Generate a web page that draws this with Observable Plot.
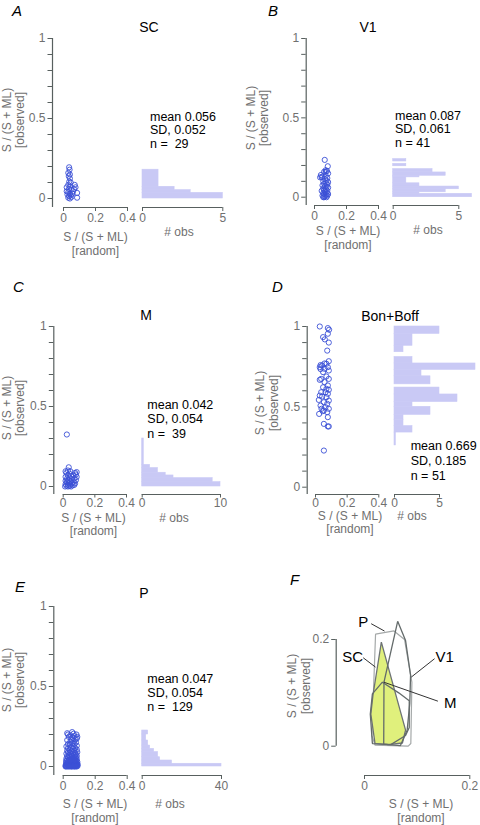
<!DOCTYPE html>
<html>
<head>
<meta charset="utf-8">
<script src="https://cdn.jsdelivr.net/npm/d3@7"></script>
<script src="https://cdn.jsdelivr.net/npm/@observablehq/plot@0.6"></script>
<style>
html,body{margin:0;padding:0;background:#fff;}
#fig{position:relative;width:480px;height:825px;overflow:hidden;background:#fff;}
#fig svg{position:absolute;left:0;top:0;}
</style>
</head>
<body>
<div id="fig"></div>
<script>
// ---------------- data ----------------
const yTicks = [0,0.1,0.2,0.3,0.4,0.5,0.6,0.7,0.8,0.9,1];
const yTickLabels = [0,0.5,1];
const xTicks = [0,0.2,0.4];
const fTicks = [0,0.2];

// scatter points [random, observed]
const ptsSC = [[0.035,0.195],[0.038,0.18],[0.03,0.16],[0.04,0.15],[0.033,0.14],[0.04,0.125],[0.036,0.105],[0.045,0.1],[0.03,0.085],[0.04,0.075],[0.02,0.07],[0.035,0.06],[0.05,0.055],[0.07,0.085],[0.075,0.07],[0.065,0.06],[0.06,0.045],[0.085,0.035],[0.03,0.04],[0.04,0.03],[0.025,0.025],[0.045,0.02],[0.035,0.015],[0.05,0.01],[0.03,0.005],[0.04,0.0],[0.085,0.005],[0.055,0.03],[0.02,0.045]];
const ptsV1 = [[0.064,0.235],[0.083,0.195],[0.07,0.17],[0.078,0.165],[0.06,0.16],[0.085,0.15],[0.04,0.14],[0.05,0.13],[0.045,0.125],[0.07,0.135],[0.08,0.12],[0.065,0.115],[0.075,0.105],[0.085,0.095],[0.055,0.1],[0.07,0.09],[0.06,0.085],[0.08,0.08],[0.05,0.075],[0.065,0.07],[0.075,0.065],[0.085,0.06],[0.055,0.055],[0.07,0.05],[0.06,0.045],[0.08,0.04],[0.045,0.04],[0.065,0.035],[0.075,0.03],[0.055,0.025],[0.085,0.02],[0.06,0.02],[0.07,0.015],[0.05,0.01],[0.08,0.01],[0.065,0.005],[0.055,0.0],[0.075,0.0],[0.06,0.0],[0.07,0.16],[0.035,0.125]];
const ptsM = [[0.023,0.325],[0.035,0.12],[0.015,0.095],[0.03,0.1],[0.045,0.095],[0.085,0.09],[0.075,0.085],[0.02,0.085],[0.04,0.08],[0.08,0.075],[0.065,0.07],[0.03,0.07],[0.05,0.065],[0.085,0.06],[0.015,0.06],[0.04,0.055],[0.07,0.05],[0.025,0.05],[0.055,0.045],[0.035,0.04],[0.08,0.04],[0.015,0.035],[0.045,0.03],[0.065,0.03],[0.025,0.025],[0.035,0.02],[0.055,0.02],[0.075,0.02],[0.015,0.015],[0.045,0.012],[0.03,0.01],[0.06,0.008],[0.02,0.005],[0.04,0.003],[0.05,0.0],[0.012,0.0],[0.03,0.0],[0.07,0.01],[0.025,0.035]];
const ptsB = [[0.027,1.0],[0.078,0.99],[0.086,0.98],[0.078,0.955],[0.048,0.934],[0.059,0.92],[0.084,0.9],[0.074,0.85],[0.084,0.784],[0.069,0.768],[0.032,0.76],[0.042,0.757],[0.027,0.747],[0.078,0.747],[0.057,0.737],[0.084,0.726],[0.048,0.716],[0.069,0.689],[0.036,0.674],[0.084,0.674],[0.027,0.668],[0.057,0.654],[0.078,0.633],[0.048,0.622],[0.069,0.612],[0.084,0.606],[0.063,0.591],[0.036,0.591],[0.078,0.581],[0.027,0.57],[0.069,0.56],[0.042,0.564],[0.021,0.543],[0.084,0.539],[0.053,0.529],[0.074,0.519],[0.032,0.508],[0.063,0.498],[0.038,0.488],[0.084,0.488],[0.053,0.477],[0.074,0.467],[0.023,0.456],[0.046,0.473],[0.078,0.436],[0.053,0.394],[0.078,0.378],[0.084,0.378],[0.053,0.228],[0.057,0.77],[0.032,0.735]];
const ptsP = [
[0.015,0],[0.025,0],[0.035,0],[0.045,0],[0.055,0],[0.065,0],[0.075,0],[0.085,0],
[0.02,0.004],[0.03,0.004],[0.04,0.004],[0.05,0.004],[0.06,0.004],[0.07,0.004],[0.08,0.004],[0.09,0.004],
[0.015,0.008],[0.028,0.008],[0.038,0.008],[0.048,0.008],[0.058,0.008],[0.068,0.008],[0.078,0.008],[0.088,0.008],
[0.022,0.012],[0.033,0.012],[0.043,0.012],[0.053,0.012],[0.063,0.012],[0.073,0.012],[0.083,0.012],
[0.018,0.016],[0.03,0.016],[0.04,0.016],[0.05,0.016],[0.06,0.016],[0.07,0.016],[0.08,0.016],[0.09,0.016],
[0.025,0.02],[0.035,0.02],[0.045,0.02],[0.055,0.02],[0.065,0.02],[0.075,0.02],[0.085,0.02],
[0.02,0.025],[0.04,0.025],[0.06,0.025],[0.08,0.025],
[0.03,0.03],[0.05,0.03],[0.07,0.03],[0.088,0.03],
[0.018,0.035],[0.045,0.035],[0.065,0.035],[0.08,0.035],
[0.025,0.04],[0.035,0.04],[0.055,0.04],[0.075,0.04],
[0.04,0.045],[0.06,0.045],[0.085,0.045],
[0.02,0.05],[0.05,0.05],[0.07,0.05],
[0.03,0.055],[0.065,0.055],[0.08,0.055],
[0.045,0.06],[0.075,0.06],
[0.025,0.065],[0.055,0.065],[0.085,0.065],
[0.035,0.07],[0.07,0.07],
[0.05,0.075],[0.08,0.075],
[0.02,0.08],[0.06,0.08],
[0.04,0.085],[0.075,0.085],
[0.03,0.09],[0.065,0.09],[0.088,0.09],
[0.05,0.095],
[0.025,0.1],[0.07,0.1],
[0.04,0.105],[0.085,0.105],
[0.06,0.11],
[0.03,0.115],[0.075,0.115],
[0.05,0.12],
[0.02,0.125],[0.065,0.125],
[0.085,0.13],[0.04,0.135],
[0.03,0.14],[0.07,0.14],
[0.055,0.145],[0.08,0.15],[0.045,0.155],[0.065,0.16],[0.025,0.165],
[0.077,0.17],[0.05,0.17],[0.085,0.175],[0.06,0.18],
[0.035,0.185],[0.088,0.185],[0.07,0.19],[0.045,0.195],
[0.083,0.2],[0.03,0.2],[0.065,0.205],[0.025,0.208],[0.056,0.215],
[0.017,0.002],[0.052,0.002],[0.072,0.002],
[0.033,0.006],[0.063,0.006],[0.083,0.006],
[0.025,0.01],[0.045,0.01],[0.075,0.01]
];

// histograms [bin low, bin high, count]
const histSC = [[0.073,0.18,1],[0.052,0.073,2],[0.035,0.052,3],[0,0.035,5]];
const histV1 = [[0.225,0.24,1],[0.195,0.21,1],[0.156,0.177,3],[0.135,0.156,4],[0.125,0.135,2],[0.0875,0.125,1],[0.067,0.0875,2],[0.05,0.067,5],[0.031,0.05,4],[0.021,0.031,2],[0,0.021,6]];
const histM = [[0.135,0.30,0.2],[0.115,0.135,1],[0.086,0.115,2],[0.069,0.086,3],[0.052,0.069,4],[0.027,0.052,9],[0,0.027,10]];
const histB = [[0.954,1.0,5],[0.88,0.954,2],[0.84,0.88,1],[0.77,0.81,2],[0.73,0.77,9],[0.69,0.73,3],[0.64,0.69,4],[0.577,0.62,5],[0.53,0.577,7],[0.50,0.53,2],[0.45,0.50,4],[0.42,0.45,1],[0.38,0.42,1],[0.34,0.38,2],[0.26,0.34,0.15]];
const histP = [[0.2,0.225,3],[0.1625,0.2,2],[0.131,0.1625,3],[0.11,0.131,4],[0.09,0.11,6],[0.058,0.09,8],[0.0375,0.058,9],[0.017,0.0375,15],[0,0.017,40]];
const histTicksSC = [0,5], histTicksV1 = [0,5], histTicksM = [0,10], histTicksB = [0,5], histTicksP = [0,40];

// convex hulls (panel F) [random, observed]
const hullSC = [[0.032,0.195],[0.078,0.03],[0.072,0.006],[0.045,0.003],[0.02,0.005],[0.012,0.06],[0.016,0.095]];
const hullV1 = [[0.063,0.234],[0.078,0.198],[0.0875,0.133],[0.086,0.08],[0.081,0.03],[0.068,0.001],[0.0365,0.004],[0.037,0.12]];
const hullM = [[0.034,0.12],[0.065,0.1],[0.085,0.085],[0.085,0.035],[0.078,0.02],[0.05,0.003],[0.015,0.005],[0.011,0.06],[0.015,0.098]];
const hullP = [[0.021,0.21],[0.056,0.216],[0.076,0.2],[0.09,0.12],[0.088,0.005],[0.083,0.0],[0.02,0.002],[0.014,0.02]];
const fLabels = [["P",-0.0023,0.2326],["SC",-0.0224,0.1672],["V1",0.1525,0.1672],["M",0.1629,0.081]];
const fPointers = [[0.0127,0.2296,0.038,0.2158],[-0.0025,0.1658,0.0209,0.1482],[0.1331,0.164,0.0888,0.1295],[0.1394,0.0844,0.0367,0.12]];

// stats text
const statsSC = ["mean 0.056","SD, 0.052","n =  29"];
const statsV1 = ["mean 0.087","SD, 0.061","n = 41"];
const statsM = ["mean 0.042","SD, 0.054","n =  39"];
const statsB = ["mean 0.669","SD, 0.185","n = 51"];
const statsP = ["mean 0.047","SD, 0.054","n =  129"];

// ---------------- styling / layout ----------------
const W = 480, H = 825;
const FONT = "'Liberation Sans', Arial, Helvetica, sans-serif";
const BLUE = "#3b50d6", HIST = "#c9c9f5", AX = "#58605f", GRAY = "#707070", YELLOW = "#e0f07c";
const STYLE = {background: "transparent", fontFamily: FONT, fontSize: "12px", color: GRAY, overflow: "visible"};
const fig = document.getElementById("fig");
const fmtY = d => yTickLabels.includes(d) ? String(d) : "";
const X = d => d[0], Y = d => d[1];

function scatterPlot(pts, g) {
  return Plot.plot({
    width: W, height: H,
    marginLeft: g.axX, marginRight: W - g.x1, marginTop: g.yt, marginBottom: H - g.axY,
    style: STYLE,
    x: {domain: [0, 0.4], range: [g.x0, g.x1]},
    y: {domain: [0, 1], range: [g.yb, g.yt]},
    marks: [
      Plot.ruleX([0], {dx: g.axX - g.x0, stroke: AX, strokeWidth: 1.2}),
      Plot.ruleY([0], {x1: () => 0, x2: () => 0.4, dy: g.axY - g.yb, stroke: AX, strokeWidth: 1.2}),
      Plot.axisY({ticks: yTicks, tickFormat: fmtY, tickSize: 4.5, tickPadding: 2.5, stroke: AX, fill: GRAY, label: null}),
      Plot.axisX({ticks: xTicks, tickFormat: String, tickSize: g.ts, tickPadding: g.tp, stroke: AX, fill: GRAY, label: null}),
      Plot.dot(pts, {x: X, y: Y, r: 2.6, stroke: BLUE, strokeWidth: 0.9})
    ]
  });
}
function histPlot(bins, ticks, g) {
  return Plot.plot({
    width: W, height: H,
    marginLeft: g.h0, marginRight: W - g.h1, marginTop: g.yt, marginBottom: H - g.axY,
    style: STYLE,
    x: {domain: [ticks[0], ticks[1]], range: [g.h0, g.h1]},
    y: {domain: [0, 1], range: [g.yb, g.yt], axis: null},
    marks: [
      Plot.rect(bins, {x1: () => 0, x2: d => d[2], y1: d => d[0], y2: d => d[1], inset: 0, fill: HIST, stroke: HIST, strokeWidth: 0.6}),
      Plot.ruleY([0], {dy: g.axY - g.yb, stroke: AX, strokeWidth: 1.2}),
      Plot.axisX({ticks: ticks, tickFormat: String, tickSize: g.ts, tickPadding: g.tp, stroke: AX, fill: GRAY, label: null})
    ]
  });
}

const G = {
  A: {x0: 63, x1: 127, yb: 198, yt: 38, axX: 52, axY: 207, h0: 142, h1: 222.3, ts: 4, tp: 2},
  B: {x0: 314, x1: 378, yb: 196.7, yt: 38, axX: 305.7, axY: 205, h0: 392.7, h1: 458.3, ts: 4, tp: 2},
  C: {x0: 62.7, x1: 126, yb: 486, yt: 326, axX: 53.3, axY: 494, h0: 141.7, h1: 220, ts: 3.5, tp: 0},
  D: {x0: 315, x1: 378.3, yb: 486.7, yt: 326, axX: 306.7, axY: 494, h0: 394, h1: 439, ts: 3.5, tp: 0},
  E: {x0: 62.7, x1: 126.7, yb: 766, yt: 606, axX: 53.3, axY: 775, h0: 141.7, h1: 221, ts: 4, tp: 2}
};

fig.appendChild(histPlot(histSC, histTicksSC, G.A));
fig.appendChild(scatterPlot(ptsSC, G.A));
fig.appendChild(histPlot(histV1, histTicksV1, G.B));
fig.appendChild(scatterPlot(ptsV1, G.B));
fig.appendChild(histPlot(histM, histTicksM, G.C));
fig.appendChild(scatterPlot(ptsM, G.C));
fig.appendChild(histPlot(histB, histTicksB, G.D));
fig.appendChild(scatterPlot(ptsB, G.D));
fig.appendChild(histPlot(histP, histTicksP, G.E));
fig.appendChild(scatterPlot(ptsP, G.E));

// panel F
const F = {x0: 364, x1: 469.3, yb: 745.7, yt: 639, axX: 335.7, axY: 775};
fig.appendChild(Plot.plot({
  width: W, height: H,
  marginLeft: F.axX, marginRight: W - F.x1, marginTop: F.yt, marginBottom: H - F.axY,
  style: STYLE,
  x: {domain: [0, 0.2], range: [F.x0, F.x1]},
  y: {domain: [0, 0.2], range: [F.yb, F.yt]},
  marks: [
    Plot.hull(hullP, {x: X, y: Y, stroke: "#a5a9a9", strokeWidth: 1.2}),
    Plot.hull(hullSC, {x: X, y: Y, fill: YELLOW, stroke: "#6d7373", strokeWidth: 1.3}),
    Plot.hull(hullV1, {x: X, y: Y, stroke: "#646b6b", strokeWidth: 1.3}),
    Plot.hull(hullM, {x: X, y: Y, stroke: "#646b6b", strokeWidth: 1.3}),
    Plot.link(fPointers, {x1: d => d[0], y1: d => d[1], x2: d => d[2], y2: d => d[3], stroke: "#333", strokeWidth: 1}),
    Plot.text(fLabels, {x: d => d[1], y: d => d[2], text: d => d[0], fontSize: 15, fill: "#000"}),
    Plot.ruleX([0], {y1: () => 0, y2: () => 0.2, dx: F.axX - F.x0, stroke: AX, strokeWidth: 1.2}),
    Plot.ruleY([0], {x1: () => 0, x2: () => 0.2, dy: F.axY - F.yb, stroke: AX, strokeWidth: 1.2}),
    Plot.axisY({ticks: fTicks, tickFormat: String, tickSize: 4.5, tickPadding: 2.5, stroke: AX, fill: GRAY, label: null}),
    Plot.axisX({ticks: fTicks, tickFormat: String, tickSize: 4, tickPadding: 2, stroke: AX, fill: GRAY, label: null})
  ]
}));

// ---------------- text overlay ----------------
const svg = d3.select(fig).append("svg").attr("width", W).attr("height", H)
  .style("font-family", FONT);
function txt(s, x, y, o = {}) {
  const t = svg.append("text").attr("x", x).attr("y", y)
    .attr("font-size", o.size || 12)
    .attr("text-anchor", o.anchor || "start")
    .attr("fill", o.fill || "#000")
    .style("white-space", "pre")
    .text(s);
  if (o.italic) t.attr("font-style", "italic");
  if (o.rotate) t.attr("transform", `rotate(-90 ${x} ${y})`);
  return t;
}
// panel letters
[["A",12,15.5],["B",268,15.5],["C",13,292],["D",272,292],["E",15,592],["F",290,585]]
  .forEach(([s,x,y]) => txt(s, x, y, {size: 15, italic: true}));
// titles
[["SC",149,32],["V1",368,32],["M",146,320],["Bon+Boff",390,321],["P",144,598]]
  .forEach(([s,x,y]) => txt(s, x, y, {size: 14, anchor: "middle"}));
// stats
function stats(lines, x, ys) { lines.forEach((s, i) => txt(s, x, ys[i], {size: 12.5})); }
stats(statsSC, 150, [120.5, 134, 148]);
stats(statsV1, 395, [119.5, 133, 147]);
stats(statsM, 147.3, [408.5, 423, 437.5]);
stats(statsB, 410.7, [450, 465, 479.5]);
stats(statsP, 147.3, [682.7, 697, 711]);
// y-axis labels
function ylab(x1, x2, cy) {
  txt("S / (S + ML)", x1, cy, {size: 12, anchor: "middle", fill: GRAY, rotate: true});
  txt("[observed]", x2, cy, {size: 12, anchor: "middle", fill: GRAY, rotate: true});
}
ylab(11, 23.5, 120); ylab(254.5, 268, 118); ylab(11, 23.5, 408); ylab(264, 277.5, 403); ylab(11, 23.5, 680); ylab(296, 309.5, 686);
// x-axis labels
function xlab(cx, y1, y2) {
  txt("S / (S + ML)", cx, y1, {size: 12, anchor: "middle", fill: GRAY});
  txt("[random]", cx, y2, {size: 12, anchor: "middle", fill: GRAY});
}
xlab(95.5, 241, 254.5); xlab(348, 235, 248.5); xlab(93.5, 521.5, 535);
xlab(350, 519.5, 533); xlab(95, 808, 821.5); xlab(421, 807.5, 821.5);
[[179,236],[428,234],[174,521.5],[412,519.5],[170,808]].forEach(([x,y]) => txt("# obs", x, y, {size: 12, anchor: "middle", fill: GRAY}));
</script>
</body>
</html>
